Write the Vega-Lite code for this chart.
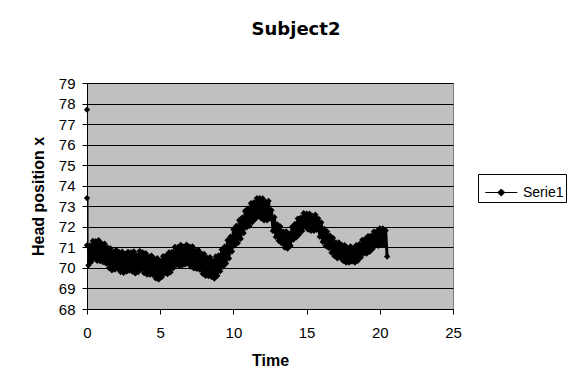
{
  "$schema": "https://vega.github.io/schema/vega-lite/v6.json",
  "autosize": "none",
  "width": 366,
  "height": 226,
  "padding": {"left": 87, "top": 83, "right": 118, "bottom": 80},
  "background": "white",
  "title": {"text": "Subject2", "fontSize": 18, "font": "DejaVu Sans", "fontWeight": "bold", "color": "black", "anchor": "middle", "dx": 26, "offset": 37},
  "config": {
    "view": {"fill": "#c0c0c0", "stroke": "#808080", "strokeWidth": 1},
    "axis": {"labelFont": "Liberation Sans", "titleFont": "Liberation Sans", "labelFontSize": 15, "titleFontSize": 16, "labelColor": "black", "titleColor": "black", "domainColor": "black", "tickColor": "black", "titleFontWeight": "bold"}
  },
  "datasets": {
    "pts": [
      {"seq":0,"time":0,"head":77.7},
      {"seq":1,"time":0,"head":73.4},
      {"seq":2,"time":0.0,"head":71.1},{"seq":3,"time":0.1,"head":70.13},{"seq":4,"time":0.2,"head":71.1},{"seq":5,"time":0.3,"head":70.3},{"seq":6,"time":0.4,"head":71.32},{"seq":7,"time":0.5,"head":70.47},{"seq":8,"time":0.6,"head":71.3},{"seq":9,"time":0.7,"head":70.35},{"seq":10,"time":0.8,"head":71.35},{"seq":11,"time":0.9,"head":70.33},
      {"seq":12,"time":1.0,"head":71.19},{"seq":13,"time":1.1,"head":70.28},{"seq":14,"time":1.2,"head":71.18},{"seq":15,"time":1.3,"head":70.22},{"seq":16,"time":1.4,"head":71.0},{"seq":17,"time":1.5,"head":70.0},{"seq":18,"time":1.6,"head":70.95},{"seq":19,"time":1.7,"head":69.88},{"seq":20,"time":1.8,"head":70.78},{"seq":21,"time":1.9,"head":69.92},
      {"seq":22,"time":2.0,"head":70.87},{"seq":23,"time":2.1,"head":69.95},{"seq":24,"time":2.2,"head":70.77},{"seq":25,"time":2.3,"head":69.8},{"seq":26,"time":2.4,"head":70.79},{"seq":27,"time":2.5,"head":69.76},{"seq":28,"time":2.6,"head":70.68},{"seq":29,"time":2.7,"head":69.82},{"seq":30,"time":2.8,"head":70.78},{"seq":31,"time":2.9,"head":69.87},
      {"seq":32,"time":3.0,"head":70.75},{"seq":33,"time":3.1,"head":69.82},{"seq":34,"time":3.2,"head":70.8},{"seq":35,"time":3.3,"head":69.73},{"seq":36,"time":3.4,"head":70.62},{"seq":37,"time":3.5,"head":69.8},{"seq":38,"time":3.6,"head":70.82},{"seq":39,"time":3.7,"head":69.94},{"seq":40,"time":3.8,"head":70.75},{"seq":41,"time":3.9,"head":69.75},
      {"seq":42,"time":4.0,"head":70.72},{"seq":43,"time":4.1,"head":69.68},{"seq":44,"time":4.2,"head":70.56},{"seq":45,"time":4.3,"head":69.67},{"seq":46,"time":4.4,"head":70.6},{"seq":47,"time":4.5,"head":69.66},{"seq":48,"time":4.6,"head":70.45},{"seq":49,"time":4.7,"head":69.49},{"seq":50,"time":4.8,"head":70.47},{"seq":51,"time":4.9,"head":69.44},
      {"seq":52,"time":5.0,"head":70.35},{"seq":53,"time":5.1,"head":69.55},{"seq":54,"time":5.2,"head":70.57},{"seq":55,"time":5.3,"head":69.72},{"seq":56,"time":5.4,"head":70.6},{"seq":57,"time":5.5,"head":69.7},{"seq":58,"time":5.6,"head":70.75},{"seq":59,"time":5.7,"head":69.79},{"seq":60,"time":5.8,"head":70.78},{"seq":61,"time":5.9,"head":69.99},
      {"seq":62,"time":6.0,"head":71.02},{"seq":63,"time":6.1,"head":70.15},{"seq":64,"time":6.2,"head":71.01},{"seq":65,"time":6.3,"head":70.09},{"seq":66,"time":6.4,"head":71.12},{"seq":67,"time":6.5,"head":70.13},{"seq":68,"time":6.6,"head":71.04},{"seq":69,"time":6.7,"head":70.17},{"seq":70,"time":6.8,"head":71.13},{"seq":71,"time":6.9,"head":70.21},
      {"seq":72,"time":7.0,"head":71.03},{"seq":73,"time":7.1,"head":70.06},{"seq":74,"time":7.2,"head":71.05},{"seq":75,"time":7.3,"head":69.98},{"seq":76,"time":7.4,"head":70.85},{"seq":77,"time":7.5,"head":69.95},{"seq":78,"time":7.6,"head":70.87},{"seq":79,"time":7.7,"head":69.92},{"seq":80,"time":7.8,"head":70.71},{"seq":81,"time":7.9,"head":69.72},
      {"seq":82,"time":8.0,"head":70.68},{"seq":83,"time":8.1,"head":69.62},{"seq":84,"time":8.2,"head":70.5},{"seq":85,"time":8.3,"head":69.6},{"seq":86,"time":8.4,"head":70.52},{"seq":87,"time":8.5,"head":69.57},{"seq":88,"time":8.6,"head":70.35},{"seq":89,"time":8.7,"head":69.48},{"seq":90,"time":8.8,"head":70.56},{"seq":91,"time":8.9,"head":69.62},
      {"seq":92,"time":9.0,"head":70.61},{"seq":93,"time":9.1,"head":69.84},{"seq":94,"time":9.2,"head":70.89},{"seq":95,"time":9.3,"head":70.07},{"seq":96,"time":9.4,"head":71.03},{"seq":97,"time":9.5,"head":70.22},{"seq":98,"time":9.6,"head":71.35},{"seq":99,"time":9.7,"head":70.46},{"seq":100,"time":9.8,"head":71.52},{"seq":101,"time":9.9,"head":70.8},
      {"seq":102,"time":10.0,"head":71.88},{"seq":103,"time":10.1,"head":71.1},{"seq":104,"time":10.2,"head":72.04},{"seq":105,"time":10.3,"head":71.21},{"seq":106,"time":10.4,"head":72.32},{"seq":107,"time":10.5,"head":71.42},{"seq":108,"time":10.6,"head":72.45},{"seq":109,"time":10.7,"head":71.7},{"seq":110,"time":10.8,"head":72.77},{"seq":111,"time":10.9,"head":71.97},
      {"seq":112,"time":11.0,"head":72.9},{"seq":113,"time":11.1,"head":72.05},{"seq":114,"time":11.2,"head":73.15},{"seq":115,"time":11.3,"head":72.23},{"seq":116,"time":11.4,"head":73.19},{"seq":117,"time":11.5,"head":72.38},{"seq":118,"time":11.6,"head":73.39},{"seq":119,"time":11.7,"head":72.53},{"seq":120,"time":11.8,"head":73.4},{"seq":121,"time":11.9,"head":72.41},
      {"seq":122,"time":12.0,"head":73.38},{"seq":123,"time":12.1,"head":72.32},{"seq":124,"time":12.2,"head":73.21},{"seq":125,"time":12.3,"head":72.32},{"seq":126,"time":12.4,"head":73.26},{"seq":127,"time":12.5,"head":72.4},{"seq":128,"time":12.6,"head":72.81},{"seq":129,"time":12.7,"head":71.8},{"seq":130,"time":12.8,"head":72.47},{"seq":131,"time":12.9,"head":71.51},
      {"seq":132,"time":13.0,"head":72.12},{"seq":133,"time":13.1,"head":71.32},{"seq":134,"time":13.2,"head":72.02},{"seq":135,"time":13.3,"head":71.2},{"seq":136,"time":13.4,"head":71.76},{"seq":137,"time":13.5,"head":70.99},{"seq":138,"time":13.6,"head":71.78},{"seq":139,"time":13.7,"head":70.94},{"seq":140,"time":13.8,"head":71.67},{"seq":141,"time":13.9,"head":71.08},
      {"seq":142,"time":14.0,"head":71.99},{"seq":143,"time":14.1,"head":71.38},{"seq":144,"time":14.2,"head":72.14},{"seq":145,"time":14.3,"head":71.49},{"seq":146,"time":14.4,"head":72.4},{"seq":147,"time":14.5,"head":71.64},{"seq":148,"time":14.6,"head":72.44},{"seq":149,"time":14.7,"head":71.8},{"seq":150,"time":14.8,"head":72.66},{"seq":151,"time":14.9,"head":72.0},
      {"seq":152,"time":15.0,"head":72.64},{"seq":153,"time":15.1,"head":71.86},{"seq":154,"time":15.2,"head":72.64},{"seq":155,"time":15.3,"head":71.81},{"seq":156,"time":15.4,"head":72.53},{"seq":157,"time":15.5,"head":71.81},{"seq":158,"time":15.6,"head":72.59},{"seq":159,"time":15.7,"head":71.85},{"seq":160,"time":15.8,"head":72.4},{"seq":161,"time":15.9,"head":71.52},
      {"seq":162,"time":16.0,"head":72.21},{"seq":163,"time":16.1,"head":71.27},{"seq":164,"time":16.2,"head":71.9},{"seq":165,"time":16.3,"head":71.08},{"seq":166,"time":16.4,"head":71.77},{"seq":167,"time":16.5,"head":70.98},{"seq":168,"time":16.6,"head":71.57},{"seq":169,"time":16.7,"head":70.74},{"seq":170,"time":16.8,"head":71.46},{"seq":171,"time":16.9,"head":70.57},
      {"seq":172,"time":17.0,"head":71.24},{"seq":173,"time":17.1,"head":70.47},{"seq":174,"time":17.2,"head":71.24},{"seq":175,"time":17.3,"head":70.49},{"seq":176,"time":17.4,"head":71.12},{"seq":177,"time":17.5,"head":70.34},{"seq":178,"time":17.6,"head":71.11},{"seq":179,"time":17.7,"head":70.26},{"seq":180,"time":17.8,"head":70.97},{"seq":181,"time":17.9,"head":70.26},
      {"seq":182,"time":18.0,"head":71.05},{"seq":183,"time":18.1,"head":70.31},{"seq":184,"time":18.2,"head":70.96},{"seq":185,"time":18.3,"head":70.26},{"seq":186,"time":18.4,"head":71.11},{"seq":187,"time":18.5,"head":70.35},{"seq":188,"time":18.6,"head":71.15},{"seq":189,"time":18.7,"head":70.51},{"seq":190,"time":18.8,"head":71.36},{"seq":191,"time":18.9,"head":70.7},
      {"seq":192,"time":19.0,"head":71.41},{"seq":193,"time":19.1,"head":70.7},{"seq":194,"time":19.2,"head":71.55},{"seq":195,"time":19.3,"head":70.78},{"seq":196,"time":19.4,"head":71.57},{"seq":197,"time":19.5,"head":70.92},{"seq":198,"time":19.6,"head":71.77},{"seq":199,"time":19.7,"head":71.09},{"seq":200,"time":19.8,"head":71.79},{"seq":201,"time":19.9,"head":71.08},
      {"seq":202,"time":20.0,"head":71.92},{"seq":203,"time":20.1,"head":71.14},{"seq":204,"time":20.2,"head":71.92},{"seq":205,"time":20.3,"head":71.12},{"seq":206,"time":20.4,"head":71.82},{"seq":207,"time":20.5,"head":70.55}
    ]
  },
  "data": {"name": "pts"},
  "encoding": {
    "x": {"field": "time", "type": "quantitative", "scale": {"domain": [0, 25], "nice": false, "zero": false},
      "axis": {"values": [0, 5, 10, 15, 20, 25], "grid": false, "title": "Time", "tickSize": 5, "labelPadding": 11, "titlePadding": 12, "labelFlush": false}},
    "y": {"field": "head", "type": "quantitative", "scale": {"domain": [68, 79], "nice": false, "zero": false},
      "axis": {"values": [68,69,70,71,72,73,74,75,76,77,78,79], "grid": true, "gridColor": "black", "gridOpacity": 1, "gridWidth": 1, "title": "Head position x", "tickSize": 5, "labelPadding": 7, "titlePadding": 12, "labelFlush": false}}
  },
  "layer": [
    {
      "transform": [{"filter": "datum.seq > 0"}],
      "mark": {"type": "line", "color": "black", "strokeWidth": 3, "clip": true},
      "encoding": {"order": {"field": "seq", "type": "quantitative"}}
    },
    {
      "mark": {"type": "point", "shape": "diamond", "filled": true, "opacity": 1, "size": 40},
      "encoding": {
        "color": {"datum": "Serie1", "type": "nominal", "scale": {"domain": ["Serie1"], "range": ["black"]},
          "legend": {"title": null, "orient": "none", "legendX": 391, "legendY": 91, "strokeColor": "black", "fillColor": "white", "padding": 2,
            "symbolType": "M-0.7,0L1.3,0M0.08,0L0.3,-0.22L0.52,0L0.3,0.22Z", "symbolSize": 1024, "symbolFillColor": "black", "symbolStrokeColor": "black", "symbolStrokeWidth": 1,
            "labelFont": "Liberation Sans", "labelFontSize": 14, "labelColor": "black", "labelOffset": 10,
            "labelExpr": "datum.label + '\u2003\u2003\u2003'",
            "encode": {"symbols": {"update": {"size": {"value": 1024}, "shape": {"value": "M-0.7,0L1.3,0M0.08,0L0.3,-0.22L0.52,0L0.3,0.22Z"}, "strokeWidth": {"value": 1}}}}}}
      }
    }
  ]
}
